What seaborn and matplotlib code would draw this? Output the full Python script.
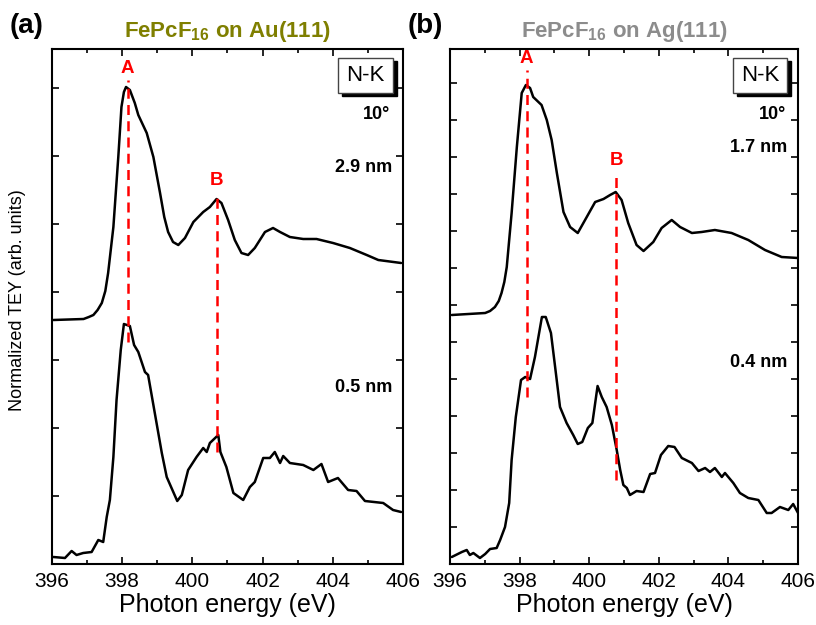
import numpy as np
import pandas as pd
import matplotlib
matplotlib.use("Agg")
import matplotlib.pyplot as plt
from matplotlib.ticker import MultipleLocator, NullFormatter
from matplotlib.patches import Rectangle
import seaborn as sns

# Spectra (arb. units)
OFFSET = 2.4

au_thick_e = [396.04, 396.9, 397.05, 397.18, 397.30, 397.42, 397.52, 397.6, 397.75, 397.89, 397.98, 398.05, 398.11, 398.22,
              398.36, 398.46, 398.70, 398.89, 399.08, 399.20, 399.31, 399.45, 399.60, 399.79, 400.03, 400.31,
              400.50, 400.69, 400.83, 401.02, 401.21, 401.40, 401.59, 401.78, 402.07, 402.30,
              402.50, 402.78, 403.16, 403.54, 404.01, 404.49, 404.97, 405.30, 405.95]
au_thick_i = [0.04, 0.05, 0.07, 0.09, 0.14, 0.21, 0.33, 0.51, 0.97, 1.67, 2.17, 2.32, 2.37, 2.34,
              2.21, 2.09, 1.91, 1.67, 1.31, 1.07, 0.92, 0.82, 0.79, 0.86, 1.02, 1.12,
              1.17, 1.25, 1.21, 1.04, 0.84, 0.71, 0.69, 0.76, 0.92, 0.96,
              0.92, 0.87, 0.85, 0.85, 0.81, 0.76, 0.69, 0.64, 0.61]

au_thin_e = [396.04, 396.37, 396.56, 396.70, 396.89, 397.13, 397.32, 397.46, 397.56, 397.65,
             397.75, 397.84, 397.96, 398.05, 398.22, 398.34, 398.46, 398.65, 398.74, 398.93,
             399.13, 399.27, 399.57, 399.70, 399.88, 400.12, 400.31, 400.41, 400.50, 400.74,
             400.80, 400.97, 401.17, 401.45, 401.64, 401.78, 402.02, 402.21, 402.35, 402.50,
             402.59, 402.78, 403.16, 403.45, 403.68, 403.87, 404.15, 404.44, 404.68, 404.92,
             405.44, 405.72, 405.95]
au_thin_i = [0.07, 0.06, 0.13, 0.09, 0.11, 0.12, 0.24, 0.22, 0.47, 0.64,
             1.07, 1.64, 2.14, 2.40, 2.38, 2.19, 2.12, 1.92, 1.89, 1.51,
             1.11, 0.87, 0.63, 0.69, 0.94, 1.07, 1.16, 1.12, 1.21, 1.29,
             1.12, 0.97, 0.71, 0.64, 0.77, 0.82, 1.06, 1.06, 1.12, 1.01,
             1.08, 1.01, 0.99, 0.94, 1.00, 0.82, 0.86, 0.74, 0.73, 0.63,
             0.61, 0.54, 0.52]

ag_thick_e = [396.05, 397.01, 397.15, 397.29, 397.40, 397.48, 397.56, 397.63, 397.77, 397.92, 398.06, 398.18, 398.30,
              398.39, 398.63, 398.78, 398.92, 399.07, 399.26, 399.45, 399.67, 399.88, 400.17,
              400.41, 400.60, 400.76, 400.93, 401.12, 401.36, 401.56, 401.84, 402.08, 402.37,
              402.61, 402.95, 403.23, 403.61, 404.09, 404.57, 405.05, 405.53, 406.0]
ag_thick_i = [0.09, 0.11, 0.13, 0.17, 0.23, 0.31, 0.42, 0.57, 1.11, 1.77, 2.31, 2.39, 2.36,
              2.27, 2.19, 2.04, 1.84, 1.51, 1.12, 0.97, 0.91, 1.04, 1.22,
              1.25, 1.29, 1.32, 1.24, 1.01, 0.79, 0.73, 0.82, 0.96, 1.04,
              0.97, 0.91, 0.92, 0.94, 0.91, 0.84, 0.74, 0.67, 0.66]

ag_thin_e = [396.05, 396.34, 396.48, 396.57, 396.67, 396.86, 397.01, 397.15, 397.34, 397.44,
             397.58, 397.70, 397.77, 397.89, 398.04, 398.16, 398.30, 398.44, 398.64, 398.75,
             398.90, 399.02, 399.16, 399.35, 399.54, 399.67, 399.80, 399.96, 400.09, 400.24,
             400.36, 400.50, 400.65, 400.79, 400.89, 400.98, 401.08, 401.17, 401.36, 401.56,
             401.75, 401.89, 402.06, 402.27, 402.45, 402.66, 402.95, 403.14, 403.33, 403.47,
             403.61, 403.81, 403.90, 404.14, 404.33, 404.57, 404.86, 405.10, 405.24, 405.48,
             405.72, 405.86, 406.0]
ag_thin_i = [0.07, 0.12, 0.14, 0.09, 0.11, 0.06, 0.10, 0.15, 0.16, 0.24,
             0.37, 0.61, 1.04, 1.47, 1.84, 1.87, 1.85, 2.07, 2.47, 2.47,
             2.31, 1.97, 1.57, 1.41, 1.29, 1.20, 1.22, 1.36, 1.41, 1.78,
             1.67, 1.57, 1.39, 1.14, 0.94, 0.79, 0.76, 0.69, 0.73, 0.72,
             0.90, 0.91, 1.09, 1.18, 1.17, 1.06, 1.01, 0.93, 0.96, 0.92,
             0.96, 0.87, 0.91, 0.81, 0.71, 0.66, 0.64, 0.51, 0.51, 0.57,
             0.54, 0.60, 0.51]

# peak markers: energy, bottom, top (label sits at top)
au_peaks = {"A": (398.16, 2.22, 4.84), "B": (400.69, 1.12, 3.72)}
ag_peaks = {"A": (398.20, 1.67, 4.94), "B": (400.77, 0.84, 3.92)}

panels = [
    dict(tag="(a)", title="FePcF$_{\\mathbf{16}}$ on Au(111)", tcolor="#7f7f00",
         thick=(au_thick_e, au_thick_i, "2.9 nm", 0.769), thin=(au_thin_e, au_thin_i, "0.5 nm", 0.342),
         peaks=au_peaks, ystep=0.68, left=0.0637, width=0.430),
    dict(tag="(b)", title="FePcF$_{\\mathbf{16}}$ on Ag(111)", tcolor="#8c8c8c",
         thick=(ag_thick_e, ag_thick_i, "1.7 nm", 0.808), thin=(ag_thin_e, ag_thin_i, "0.4 nm", 0.392),
         peaks=ag_peaks, ystep=0.37, left=0.5515, width=0.4265),
]

sns.set_style("ticks")
plt.rcParams["font.family"] = ["Liberation Sans", "DejaVu Sans"]
plt.rcParams["mathtext.fontset"] = "custom"
plt.rcParams["mathtext.rm"] = "Liberation Sans"
plt.rcParams["mathtext.bf"] = "Liberation Sans:bold"
for k in ["text.color", "axes.labelcolor", "xtick.color", "ytick.color", "axes.edgecolor"]:
    plt.rcParams[k] = "black"

fig = plt.figure(figsize=(8.16, 6.25), dpi=100)

for i, p in enumerate(panels):
    ax = fig.add_axes([p["left"], 0.0976, p["width"], 0.824])
    e, inten, lab, ly = p["thick"]
    df = pd.DataFrame({"E": e, "I": np.array(inten) + OFFSET})
    sns.lineplot(data=df, x="E", y="I", ax=ax, color="black", lw=1.8, estimator=None, sort=False)
    ax.text(0.97, ly, lab, transform=ax.transAxes, ha="right", va="center",
            fontsize=13, fontweight="bold")
    e, inten, lab, ly = p["thin"]
    df = pd.DataFrame({"E": e, "I": inten})
    sns.lineplot(data=df, x="E", y="I", ax=ax, color="black", lw=1.8, estimator=None, sort=False)
    ax.text(0.97, ly, lab, transform=ax.transAxes, ha="right", va="center",
            fontsize=13, fontweight="bold")

    for name, (pe, y0, y1) in p["peaks"].items():
        ax.vlines(pe, y0, y1, colors="red", linestyles=(0, (4, 2.5)), lw=1.8)
        ax.text(pe, y1 + 0.03, name, color="red", ha="center", va="bottom",
                fontsize=13.5, fontweight="bold")

    ax.text(0.965, 0.872, "10°", transform=ax.transAxes, ha="right", va="center",
            fontsize=13, fontweight="bold")

    # N-K box with drop shadow
    bx = 0.815 if i == 0 else 0.813
    ax.add_patch(Rectangle((bx + 0.012, 0.908), 0.156, 0.068, transform=ax.transAxes,
                           facecolor="black", edgecolor="black", clip_on=False, zorder=4))
    ax.add_patch(Rectangle((bx, 0.915), 0.156, 0.068, transform=ax.transAxes,
                           facecolor="white", edgecolor="#444444", lw=1, clip_on=False, zorder=5))
    ax.text(bx + 0.078, 0.949, "N-K", transform=ax.transAxes, ha="center", va="center",
            fontsize=16, zorder=6)

    ax.set_xlim(396, 406)
    ax.set_ylim(0, 5.15)
    ax.xaxis.set_major_locator(MultipleLocator(2))
    ax.xaxis.set_minor_locator(MultipleLocator(1))
    ax.yaxis.set_major_locator(MultipleLocator(p["ystep"]))
    ax.yaxis.set_major_formatter(NullFormatter())
    ax.tick_params(which="both", direction="in", top=True, right=True, width=1.2)
    ax.tick_params(which="major", length=5)
    ax.tick_params(which="minor", length=3)
    ax.tick_params(axis="x", labelsize=15, pad=6)
    for s in ax.spines.values():
        s.set_linewidth(1.5)
    ax.set_xlabel("Photon energy (eV)", fontsize=18, labelpad=1)
    ax.set_ylabel("")
    ax.set_title(p["title"], color=p["tcolor"], fontsize=16, fontweight="bold", pad=9)
    fig.text(p["left"] - 0.052, 0.958, p["tag"], fontsize=20, fontweight="bold",
             ha="left", va="center")

fig.text(0.022, 0.52, "Normalized TEY (arb. units)", rotation=90, ha="center", va="center",
         fontsize=13)

fig.savefig("out.png", dpi=100)
